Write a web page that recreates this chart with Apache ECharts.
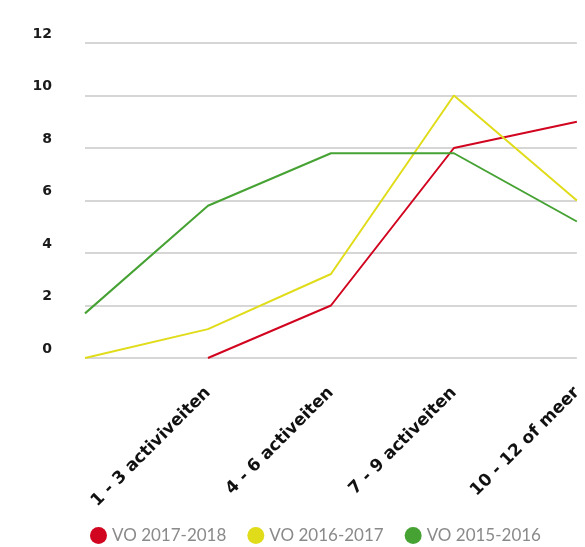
<!DOCTYPE html>
<html>
<head>
<meta charset="utf-8">
<script src="https://cdn.jsdelivr.net/npm/echarts@6/dist/echarts.min.js"></script>
<style>
    html, body { margin: 0; padding: 0; background: #fff; }
    #chart_01 { width: 585px; height: 547px; }
</style>
</head>
<body>
<div id="chart_01"></div>
<script>
// categorieen (eerste punt heeft geen label)
var categories = ['', '1 - 3 activiveiten', '4 - 6 activeiten', '7 - 9 activeiten', '10 - 12 of meer'];
var seriesNames = ['VO 2017-2018', 'VO 2016-2017', 'VO 2015-2016'];
var vo_2017_2018 = ['-', 0, 2, 8, 9];
var vo_2016_2017 = [0, 1.1, 3.2, 10, 6];
var vo_2015_2016 = [1.7, 5.8, 7.8, 7.8, 5.2];
var yTicks = [0, 2, 4, 6, 8, 10, 12];

var mychart_01 = echarts.init(document.getElementById('chart_01'));
mychart_01.setOption({
    animation: false,
    color: ['#d1051f', '#e0dc1a', '#45a233'],
    grid: {
        left: 85,
        right: 8,
        top: 43,
        bottom: 189
    },
    legend: {
        data: seriesNames,
        left: 85,
        top: 522,
        icon: 'circle',
        itemWidth: 17,
        itemHeight: 17,
        itemGap: 21,
        textStyle: {
            color: '#8a8a8a',
            fontSize: 17,
            fontFamily: 'Lato'
        }
    },
    xAxis: {
        type: 'category',
        boundaryGap: false,
        data: categories,
        axisLine: { show: false },
        axisTick: { show: false },
        axisLabel: {
            rotate: 45,
            margin: 32,
            interval: 0,
            color: '#111',
            fontSize: 17,
            fontWeight: 'bold',
            fontFamily: 'DejaVu Sans'
        }
    },
    yAxis: {
        type: 'value',
        min: yTicks[0],
        max: yTicks[yTicks.length - 1],
        interval: 2,
        axisLine: { show: false },
        axisTick: { show: false },
        axisLabel: {
            margin: 33,
            color: '#1a1a1a',
            fontSize: 14,
            fontWeight: 'bold',
            fontFamily: 'DejaVu Sans',
            verticalAlign: 'bottom',
            padding: [0, 0, 2, 0]
        },
        splitLine: {
            lineStyle: { color: '#d6d6d6', width: 2 }
        }
    },
    series: [
        {
            name: seriesNames[0],
            type: 'line',
            showSymbol: false,
            lineStyle: { width: 2 },
            data: vo_2017_2018
        },
        {
            name: seriesNames[1],
            type: 'line',
            showSymbol: false,
            lineStyle: { width: 2 },
            data: vo_2016_2017
        },
        {
            name: seriesNames[2],
            type: 'line',
            showSymbol: false,
            lineStyle: { width: 2 },
            data: vo_2015_2016
        }
    ]
});
</script>
</body>
</html>
